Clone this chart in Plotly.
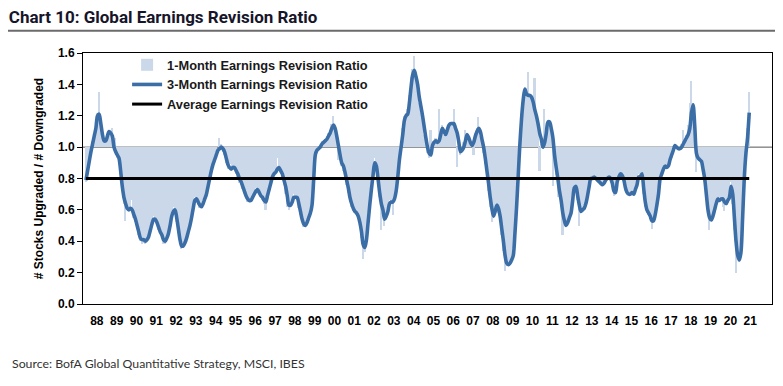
import plotly.graph_objects as go

# ---------------- data (monthly, Jan 1988 -> Jul 2021) ----------------
start_year = 1988
three_month = [
    # 1988
    .79, .85, .91, .97, 1.02, 1.07, 1.12, 1.20, 1.21, 1.15, 1.08, 1.04,
    # 1989
    1.04, 1.07, 1.10, 1.09, 1.07, 1.00, .97, .95, .93, .85, .75, .68,
    # 1990
    .64, .61, .60, .61, .60, .57, .54, .50, .46, .42, .41, .41,
    # 1991
    .40, .41, .43, .47, .51, .54, .54, .52, .49, .46, .44, .41,
    # 1992
    .40, .42, .45, .50, .56, .59, .60, .55, .48, .41, .37, .37,
    # 1993
    .39, .42, .46, .50, .55, .61, .66, .67, .65, .63, .62, .64,
    # 1994
    .67, .70, .75, .80, .85, .89, .92, .95, .98, .99, 1.00, .99,
    # 1995
    .97, .93, .89, .87, .86, .87, .87, .85, .83, .80, .78, .75,
    # 1996
    .72, .69, .67, .66, .66, .68, .70, .72, .73, .71, .69, .68,
    # 1997
    .66, .65, .69, .73, .77, .81, .83, .84, .86, .87, .85, .83,
    # 1998
    .79, .75, .69, .63, .63, .65, .68, .68, .68, .64, .59, .54,
    # 1999
    .51, .50, .52, .55, .58, .63, .79, .95, .98, .99, 1.00, 1.02,
    # 2000
    1.03, 1.04, 1.05, 1.07, 1.09, 1.12, 1.14, 1.12, 1.07, 1.01, .95, .90,
    # 2001
    .88, .84, .79, .74, .68, .64, .61, .59, .58, .56, .52, .46,
    # 2002
    .38, .36, .41, .52, .63, .73, .82, .90, .88, .80, .71, .64,
    # 2003
    .60, .54, .56, .59, .64, .65, .65, .67, .72, .81, .92, 1.00,
    # 2004
    1.08, 1.17, 1.20, 1.21, 1.28, 1.38, 1.46, 1.49, 1.45, 1.40, 1.32, 1.26,
    # 2005
    1.20, 1.13, 1.06, 1.00, .96, .95, 1.01, 1.03, 1.04, 1.03, 1.04, 1.08,
    # 2006
    1.12, 1.10, 1.08, 1.11, 1.14, 1.15, 1.15, 1.15, 1.12, 1.09, 1.03, .97,
    # 2007
    .98, 1.00, 1.04, 1.08, 1.06, 1.03, 1.01, 1.03, 1.07, 1.10, 1.12, 1.10,
    # 2008
    1.05, 1.00, .93, .85, .77, .68, .61, .56, .59, .63, .61, .56,
    # 2009
    .48, .40, .31, .26, .25, .26, .28, .31, .45, .62, .82, 1.02,
    # 2010
    1.18, 1.30, 1.37, 1.34, 1.33, 1.33, 1.32, 1.29, 1.24, 1.20, 1.15, 1.09,
    # 2011
    1.05, 1.00, 1.03, 1.09, 1.16, 1.16, 1.12, 1.06, .95, .87, .80, .72,
    # 2012
    .66, .58, .53, .50, .52, .55, .58, .66, .74, .75, .69, .63,
    # 2013
    .59, .60, .61, .64, .69, .75, .80, .80, .81, .80, .79, .78,
    # 2014
    .77, .76, .77, .79, .80, .81, .80, .77, .72, .71, .78, .81,
    # 2015
    .83, .82, .79, .74, .71, .70, .70, .71, .70, .73, .76, .81,
    # 2016
    .81, .83, .74, .65, .60, .58, .56, .53, .53, .57, .63, .70,
    # 2017
    .80, .83, .86, .88, .87, .88, .92, .95, .98, 1.01, 1.00, .99,
    # 2018
    .99, 1.00, 1.02, 1.04, 1.06, 1.08, 1.12, 1.22, 1.27, 1.13, .96, .93,
    # 2019
    .92, .91, .86, .80, .70, .60, .55, .535, .56, .60, .64, .67,
    # 2020
    .66, .67, .67, .65, .64, .66, .68, .75, .70, .55, .40, .31,
    # 2021
    .28, .33, .55, .80, .96, 1.06, 1.22,
]

one_month = [
    # 1988
    .78, .86, .93, .99, 1.04, 1.09, 1.15, 1.22, 1.35, 1.12, 1.05, 1.03,
    # 1989
    1.05, 1.08, 1.09, 1.07, 1.12, 1.02, 1.06, .93, .90, .82, .72, .64,
    # 1990
    .53, .60, .62, .60, .66, .55, .52, .48, .44, .40, .38, .39,
    # 1991
    .38, .40, .44, .49, .52, .56, .53, .50, .47, .45, .42, .38,
    # 1992
    .38, .43, .47, .53, .58, .62, .58, .52, .45, .38, .35, .38,
    # 1993
    .40, .44, .48, .52, .58, .64, .68, .66, .63, .61, .63, .66,
    # 1994
    .69, .72, .77, .82, .87, .91, .94, .97, 1.00, 1.06, 1.02, .97,
    # 1995
    .95, .90, .86, .86, .89, .86, .86, .83, .80, .77, .76, .73,
    # 1996
    .70, .68, .65, .65, .67, .70, .71, .74, .72, .70, .68, .66,
    # 1997
    .64, .60, .71, .75, .79, .83, .84, .85, .93, .88, .84, .80,
    # 1998
    .76, .70, .62, .60, .62, .66, .70, .69, .66, .61, .57, .52,
    # 1999
    .49, .50, .54, .57, .60, .70, .88, .97, .99, 1.00, 1.01, 1.04,
    # 2000
    1.04, 1.05, 1.07, 1.09, 1.11, 1.15, 1.20, 1.10, 1.03, .92, .92, .88,
    # 2001
    .85, .81, .76, .71, .65, .62, .59, .58, .57, .54, .49, .42,
    # 2002
    .29, .33, .47, .58, .68, .78, .86, .93, .85, .76, .68, .47,
    # 2003
    .57, .50, .58, .61, .66, .64, .57, .69, .76, .86, .96, 1.03,
    # 2004
    1.12, 1.20, 1.22, 1.24, 1.33, 1.45, 1.50, 1.58, 1.42, 1.36, 1.28, 1.22,
    # 2005
    1.16, 1.08, 1.02, .96, .93, 1.11, 1.04, 1.02, 1.06, 1.02, 1.24, 1.10,
    # 2006
    1.14, 1.08, 1.10, 1.13, 1.15, 1.16, 1.14, 1.24, 1.10, .875, 1.00, .95,
    # 2007
    1.00, 1.03, 1.11, 1.06, 1.04, 1.02, 1.00, .95, 1.09, 1.12, 1.19, 1.07,
    # 2008
    1.02, .96, .89, .81, .72, .62, .52, .55, .61, .62, .58, .52,
    # 2009
    .44, .34, .21, .24, .25, .27, .29, .36, .52, .70, .90, 1.10,
    # 2010
    1.22, 1.34, 1.38, 1.33, 1.48, 1.32, 1.31, 1.27, 1.44, 1.18, 1.12, .85,
    # 2011
    1.02, 1.00, 1.24, 1.12, 1.17, 1.15, 1.10, .75, .90, .82, .68, .70,
    # 2012
    .62, .44, .51, .50, .53, .56, .62, .70, .76, .72, .66, .50,
    # 2013
    .58, .61, .63, .67, .72, .78, .81, .79, .82, .79, .78, .78,
    # 2014
    .76, .77, .78, .80, .81, .80, .79, .75, .69, .74, .80, .82,
    # 2015
    .84, .80, .76, .72, .70, .70, .70, .72, .70, .75, .78, .83,
    # 2016
    .82, .84, .70, .62, .58, .57, .54, .48, .55, .60, .66, .73,
    # 2017
    .82, .85, .87, .89, .86, .90, .94, .97, 1.00, 1.02, .99, .98,
    # 2018
    .99, 1.02, 1.11, 1.05, 1.08, 1.14, 1.28, 1.42, 1.28, 1.10, .84, .93,
    # 2019
    .93, .90, .84, .78, .66, .58, .47, .53, .57, .62, .65, .68,
    # 2020
    .68, .66, .62, .59, .66, .68, .70, .78, .64, .47, .195, .30,
    # 2021
    .30, .40, .62, .86, 1.02, 1.12, 1.35,
]

average_ratio = 0.8
axis_cross = 1.0
year_labels = ["88", "89", "90", "91", "92", "93", "94", "95", "96", "97", "98",
               "99", "00", "01", "02", "03", "04", "05", "06", "07", "08", "09",
               "10", "11", "12", "13", "14", "15", "16", "17", "18", "19", "20", "21"]

# ---------------- build ----------------
n = len(three_month)
months = [start_year + i / 12 for i in range(n)]
label_pos = [start_year + k + 0.55 for k in range(len(year_labels))]

fig = go.Figure()
fig.add_trace(go.Bar(
    x=months, y=[v - axis_cross for v in one_month], base=axis_cross,
    name="1-Month Earnings Revision Ratio",
    marker=dict(color="#CBD8EA", line=dict(width=0)),
))
fig.add_trace(go.Scatter(
    x=months, y=three_month, mode="lines",
    name="3-Month Earnings Revision Ratio",
    line=dict(color="#3B6EA6", width=3.6, shape="spline", smoothing=0.8),
))
fig.add_trace(go.Scatter(
    x=months, y=[average_ratio] * n, mode="lines",
    name="Average Earnings Revision Ratio",
    line=dict(color="#000000", width=3),
))

fig.add_shape(type="line", xref="paper", yref="y", x0=0, x1=1,
              y0=axis_cross, y1=axis_cross, line=dict(color="#555555", width=1),
              layer="below")
# rule under the title
fig.add_shape(type="line", xref="paper", yref="paper", x0=-0.109, x1=1.016,
              y0=1.089, y1=1.089, line=dict(color="#6b6b6b", width=2))

tick_font = dict(family="Liberation Sans, Arial", size=12, color="#000000", weight="bold")

fig.update_layout(
    width=775, height=378,
    margin=dict(l=75, r=11, t=45, b=82),
    paper_bgcolor="white", plot_bgcolor="white",
    bargap=0,
    showlegend=True,
    legend=dict(x=0.064, y=1.012, xanchor="left", yanchor="top",
                bgcolor="rgba(0,0,0,0)", tracegroupgap=0,
                font=dict(family="Liberation Sans, Arial", size=12.8,
                          color="#1a1a1a", weight="bold")),
    title=dict(text="<b>Chart 10: Global Earnings Revision Ratio</b>",
               xref="container", yref="container", x=0.001, xanchor="left",
               y=1 - 9.5 / 378, yanchor="middle",
               font=dict(family="Roboto, Liberation Sans", size=17, color="#16162a")),
    xaxis=dict(range=[1987.85, 2022.65], tickmode="array", tickvals=label_pos,
               ticktext=year_labels, tickfont=tick_font, showgrid=False,
               zeroline=False, showline=True, linecolor="#000000", linewidth=1,
               mirror=True, ticks="outside", ticklen=6,
               tickcolor="rgba(0,0,0,0)"),
    yaxis=dict(range=[0, 1.6], dtick=0.2, tick0=0, tickformat=".1f",
               tickfont=tick_font, showgrid=False, zeroline=False,
               showline=True, linecolor="#000000", linewidth=1, mirror=True,
               ticks="outside", ticklen=5, tickcolor="#000000",
               title=dict(text="# Stocks Upgraded / # Downgraded",
                          font=dict(family="Liberation Sans, Arial", size=12,
                                    color="#000000", weight="bold"),
                          standoff=11)),
    annotations=[dict(text="Source: BofA Global Quantitative Strategy, MSCI, IBES",
                      xref="paper", yref="paper", x=-0.106, y=-0.239,
                      xanchor="left", yanchor="middle", showarrow=False,
                      font=dict(family="Lato, Open Sans", size=12.3, color="#333333"))],
)

fig.write_html("out.html")
